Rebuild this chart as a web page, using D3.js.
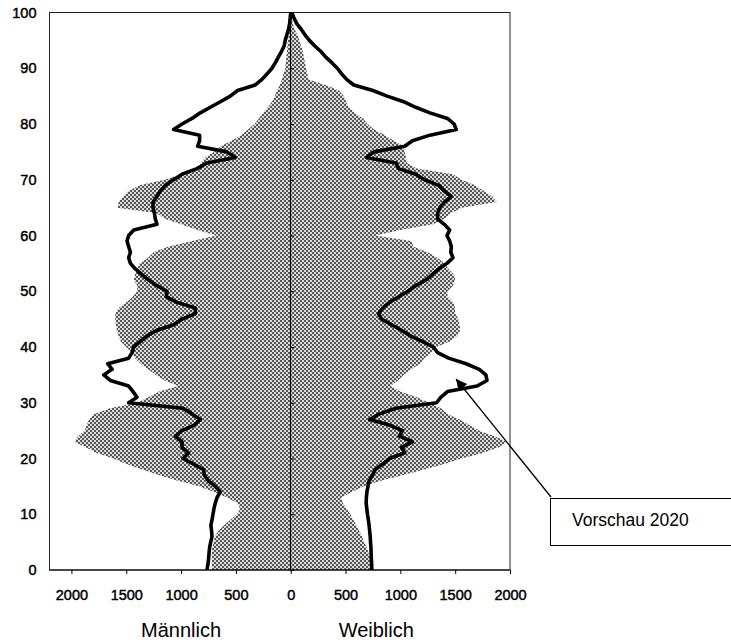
<!DOCTYPE html>
<html>
<head>
<meta charset="utf-8">
<script src="https://cdn.jsdelivr.net/npm/d3@7"></script>
<style>
  body { margin: 0; background: #fff; }
  svg text { font-family: Arial, "Liberation Sans", sans-serif; fill: #000; }
  .axis text { font-size: 14.5px; stroke: #000; stroke-width: 0.45px; }
  .axis path, .axis line { stroke: #000; }
</style>
</head>
<body>
<div id="chart-area"></div>
<script>

// age classes (rows of the pyramid)
var ages = d3.range(0, 101);

// current population, men (left side) and women (right side), by age 0..100
var maleNow = [720, 720, 720, 720, 715, 705, 690, 660, 610, 550,
    490, 460, 490, 580, 700, 830, 1030, 1200, 1350, 1500,
    1620, 1770, 1870, 1975, 1940, 1880, 1860, 1840, 1790, 1650,
    1400, 1300, 1200, 1030, 1150, 1230, 1300, 1370, 1420, 1450,
    1500, 1550, 1570, 1585, 1595, 1600, 1600, 1570, 1500, 1440,
    1400, 1400, 1430, 1420, 1400, 1380, 1300, 1250, 1120, 900,
    680, 850, 1000, 1150, 1220, 1580, 1570, 1530, 1480, 1380,
    1150, 1000, 840, 820, 780, 700, 640, 540, 450, 390,
    330, 290, 250, 210, 170, 145, 125, 100, 80, 65,
    50, 45, 40, 35, 30, 25, 15, 10, 5, 0, 0];

var femaleNow = [740, 735, 725, 710, 695, 670, 650, 625, 600, 570,
    545, 510, 475, 460, 560, 660, 820, 1020, 1210, 1400,
    1560, 1750, 1900, 1970, 1860, 1720, 1630, 1540, 1430, 1370,
    1260, 1150, 1000, 910, 980, 1030, 1100, 1180, 1220, 1280,
    1330, 1450, 1520, 1545, 1540, 1530, 1500, 1499, 1484, 1430,
    1430, 1480, 1500, 1490, 1440, 1400, 1340, 1250, 1120, 1100,
    770, 1000, 1300, 1400, 1460, 1560, 1880, 1840, 1760, 1680,
    1560, 1480, 1150, 1060, 1050, 1040, 1030, 940, 860, 760,
    700, 660, 580, 530, 505, 485, 440, 320, 165, 150,
    140, 130, 120, 110, 95, 80, 60, 35, 20, 10, 0];

// forecast 2020 (thick black line)
var male2020 = [764, 755, 749, 745, 740, 730, 718, 722, 728, 718,
    709, 700, 688, 672, 642, 688, 749, 788, 794, 885,
    982, 931, 991, 991, 1052, 991, 880, 825, 900, 982,
    1478, 1402, 1438, 1478, 1645, 1705, 1629, 1669, 1478, 1447,
    1432, 1371, 1311, 1220, 1068, 991, 870, 870, 1037, 1134,
    1128, 1220, 1296, 1356, 1417, 1462, 1478, 1462, 1478, 1493,
    1478, 1432, 1220, 1235, 1243, 1256, 1256, 1220, 1189, 1144,
    1068, 991, 855, 764, 506, 581, 849, 831, 831, 1068,
    991, 900, 825, 733, 642, 551, 485, 323, 262, 215,
    171, 140, 113, 85, 60, 50, 35, 20, 10, 5, 0];

var female2020 = [740, 738, 735, 733, 732, 728, 725, 720, 715, 708,
    700, 694, 688, 690, 695, 705, 715, 745, 770, 840,
    900, 1040, 1010, 1110, 990, 1020, 900, 720, 810, 960,
    1330, 1370, 1430, 1700, 1790, 1780, 1720, 1600, 1440, 1340,
    1300, 1200, 1090, 1010, 920, 830, 800, 840, 900, 985,
    1070, 1140, 1230, 1290, 1350, 1425, 1480, 1460, 1465, 1450,
    1425, 1450, 1400, 1340, 1340, 1360, 1400, 1465, 1400, 1350,
    1220, 1140, 985, 960, 690, 760, 1040, 1110, 1270, 1510,
    1490, 1430, 1270, 1140, 1030, 880, 750, 575, 510, 465,
    425, 375, 320, 275, 220, 170, 130, 95, 55, 30, 10];

var yTicks = [0, 10, 20, 30, 40, 50, 60, 70, 80, 90, 100];
var xTicks = [-2000, -1500, -1000, -500, 0, 500, 1000, 1500, 2000];

var sideLabels = ["Männlich", "Weiblich"];
var noteLabel = "Vorschau 2020";


class Pyramid {

    constructor(_parentElement) {
        this.parentElement = _parentElement;
        this.initVis();
    }

    initVis() {
        var vis = this;

        vis.width = 731;
        vis.height = 644;

        vis.svg = d3.select("#" + vis.parentElement).append("svg")
            .attr("width", vis.width)
            .attr("height", vis.height);

        // fine checker raster like the printed original
        var pat = vis.svg.append("defs").append("pattern")
            .attr("id", "raster")
            .attr("patternUnits", "userSpaceOnUse")
            .attr("width", 4)
            .attr("height", 4);
        pat.append("rect").attr("width", 4).attr("height", 4).attr("fill", "#dadada");
        pat.append("rect").attr("width", 2).attr("height", 2).attr("fill", "#575757");
        pat.append("rect").attr("x", 2).attr("y", 2).attr("width", 2).attr("height", 2).attr("fill", "#575757");

        vis.svg.select("defs").append("marker")
            .attr("id", "arrowhead")
            .attr("viewBox", "0 0 10 10")
            .attr("refX", 10)
            .attr("refY", 5)
            .attr("markerUnits", "userSpaceOnUse")
            .attr("markerWidth", 15)
            .attr("markerHeight", 11)
            .attr("orient", "auto")
            .append("path")
            .attr("d", "M0,0L10,5L0,10Z")
            .attr("fill", "#000");

        // Scales (men negative, women positive)
        vis.x = d3.scaleLinear()
            .domain([-2200, 2000])
            .range([49.5, 510]);

        vis.y = d3.scaleLinear()
            .domain([0, 100])
            .range([570, 12.5]);

        vis.wrangleData();
    }

    wrangleData() {
        var vis = this;

        vis.displayData = ages.map((a, i) => ({
            age: a,
            maleNow: -maleNow[i],
            femaleNow: femaleNow[i],
            male2020: -male2020[i],
            female2020: female2020[i]
        }));

        vis.updateVis();
    }

    updateVis() {
        var vis = this;

        var area = function(key) {
            return d3.area()
                .y(d => vis.y(d.age))
                .x0(vis.x(0))
                .x1(d => vis.x(d[key]));
        };

        var line = function(key) {
            return d3.line()
                .x(d => vis.x(d[key]))
                .y(d => vis.y(d.age));
        };

        // gray areas
        ["maleNow", "femaleNow"].forEach(function(key) {
            vis.svg.append("path")
                .datum(vis.displayData)
                .attr("class", "area " + key)
                .attr("fill", "url(#raster)")
                .attr("d", area(key));
        });

        // frame
        vis.svg.append("rect")
            .attr("x", vis.x(-2200))
            .attr("y", vis.y(100))
            .attr("width", vis.x(2000) - vis.x(-2200))
            .attr("height", vis.y(0) - vis.y(100))
            .attr("fill", "none")
            .attr("stroke", "#222")
            .attr("stroke-width", 1);

        // value axis sitting on 0
        vis.svg.append("g")
            .attr("class", "axis center-axis")
            .attr("transform", "translate(" + Math.floor(vis.x(0)) + ",0)")
            .call(d3.axisRight(vis.y).tickValues(yTicks).tickSize(4).tickSizeOuter(0).tickFormat(""));

        // age labels on the left
        var yAxis = vis.svg.append("g")
            .attr("class", "axis y-axis")
            .attr("transform", "translate(" + vis.x(-2200) + ",0)")
            .call(d3.axisLeft(vis.y).tickValues(yTicks).tickSize(0).tickPadding(13));
        yAxis.select(".domain").remove();

        var xAxis = vis.svg.append("g")
            .attr("class", "axis x-axis")
            .attr("transform", "translate(0," + vis.y(0) + ")")
            .call(d3.axisBottom(vis.x).tickValues(xTicks).tickSize(4).tickPadding(16)
                .tickFormat(d => Math.abs(d)));
        xAxis.select(".domain").attr("d", "M" + vis.x(-2200) + ",0H" + vis.x(2000));

        // forecast lines
        ["male2020", "female2020"].forEach(function(key) {
            vis.svg.append("path")
                .datum(vis.displayData)
                .attr("class", "line " + key)
                .attr("fill", "none")
                .attr("stroke", "#000")
                .attr("stroke-width", 3.6)
                .attr("stroke-linejoin", "round")
                .attr("d", line(key));
        });

        // side titles
        vis.svg.selectAll(".side-label")
            .data(sideLabels)
            .enter().append("text")
            .attr("class", "side-label")
            .attr("x", (d, i) => i == 0 ? vis.x(-1000) : vis.x(780))
            .attr("y", 637)
            .attr("text-anchor", "middle")
            .style("font-size", "20px")
            .text(d => d);

        // callout box + arrow
        vis.svg.append("line")
            .attr("x1", 551)
            .attr("y1", 497)
            .attr("x2", 456)
            .attr("y2", 379)
            .attr("stroke", "#000")
            .attr("stroke-width", 1.3)
            .attr("marker-end", "url(#arrowhead)");

        vis.svg.append("rect")
            .attr("x", 550.5)
            .attr("y", 498.5)
            .attr("width", 200)
            .attr("height", 47)
            .attr("fill", "#fff")
            .attr("stroke", "#000")
            .attr("stroke-width", 1);

        vis.svg.append("text")
            .attr("x", 572)
            .attr("y", 526)
            .style("font-size", "17.5px")
            .text(noteLabel);
    }
}

var pyramid = new Pyramid("chart-area");
</script>
</body>
</html>
